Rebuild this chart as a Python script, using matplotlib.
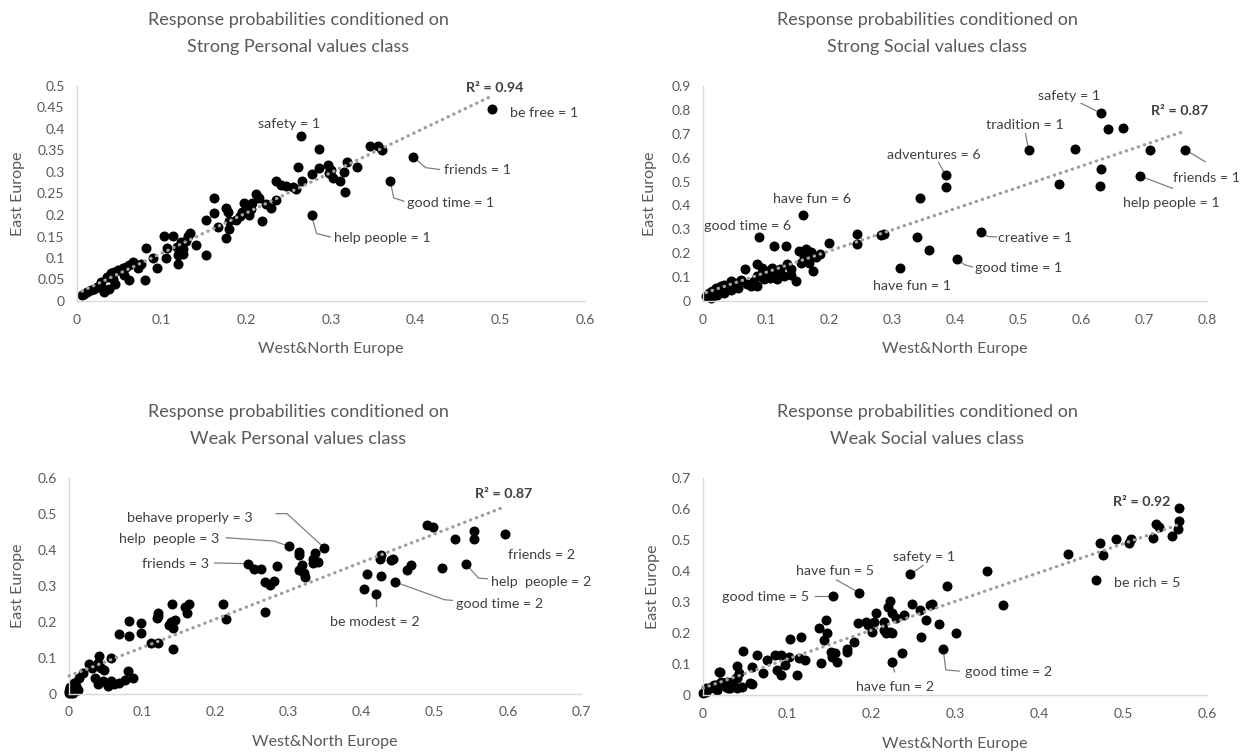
import matplotlib
matplotlib.use('Agg')
import matplotlib.pyplot as plt
from matplotlib.ticker import FuncFormatter
import numpy as np

plt.rcParams['font.family'] = ['Lato', 'DejaVu Sans']

# ---- data: (West&North Europe, East Europe) per class ----
'''Strong Personal values class'''
sp_wne = [0.490, 0.264, 0.286, 0.346, 0.355, 0.360, 0.397, 0.370, 0.277, 0.261,
          0.286, 0.297, 0.300, 0.298, 0.302, 0.319, 0.331, 0.315, 0.311, 0.316,
          0.277, 0.266, 0.259, 0.255, 0.247, 0.241, 0.235, 0.211, 0.223, 0.229,
          0.235, 0.219, 0.197, 0.201, 0.195, 0.192, 0.188, 0.205, 0.203, 0.176,
          0.178, 0.180, 0.180, 0.176, 0.162, 0.162, 0.166, 0.152, 0.152, 0.133,
          0.131, 0.129, 0.123, 0.125, 0.119, 0.119, 0.103, 0.113, 0.106, 0.105,
          0.094, 0.082, 0.080, 0.066, 0.062, 0.058, 0.054, 0.048, 0.044, 0.040,
          0.042, 0.036, 0.062, 0.072, 0.028, 0.024, 0.020, 0.016, 0.012, 0.008,
          0.006, 0.032, 0.038, 0.140, 0.125, 0.090, 0.075, 0.055, 0.045, 0.030,
          0.215, 0.207, 0.118]
sp_ee = [0.447, 0.383, 0.354, 0.361, 0.361, 0.352, 0.335, 0.279, 0.199, 0.311,
         0.309, 0.317, 0.305, 0.297, 0.286, 0.323, 0.311, 0.299, 0.278, 0.253,
         0.295, 0.278, 0.261, 0.266, 0.268, 0.270, 0.278, 0.249, 0.225, 0.216,
         0.236, 0.185, 0.227, 0.217, 0.208, 0.197, 0.189, 0.215, 0.200, 0.217,
         0.208, 0.186, 0.167, 0.146, 0.240, 0.204, 0.173, 0.189, 0.106, 0.159,
         0.150, 0.139, 0.138, 0.122, 0.107, 0.087, 0.150, 0.150, 0.124, 0.099,
         0.076, 0.124, 0.049, 0.091, 0.083, 0.080, 0.076, 0.072, 0.068, 0.064,
         0.052, 0.056, 0.048, 0.076, 0.044, 0.033, 0.029, 0.025, 0.021, 0.017,
         0.013, 0.021, 0.029, 0.130, 0.110, 0.100, 0.085, 0.060, 0.040, 0.030,
         0.240, 0.228, 0.125]

'''Strong Social values class'''
ss_wne = [0.159, 0.089, 0.245, 0.245, 0.282, 0.287, 0.200, 0.113, 0.131, 0.152,
          0.163, 0.171, 0.160, 0.168, 0.174, 0.179, 0.155, 0.147, 0.066, 0.086,
          0.094, 0.100, 0.107, 0.115, 0.123, 0.134, 0.139, 0.129, 0.118, 0.107,
          0.097, 0.086, 0.081, 0.076, 0.086, 0.060, 0.050, 0.044, 0.034, 0.028,
          0.021, 0.015, 0.010, 0.005, 0.013, 0.023, 0.034, 0.044, 0.313, 0.339,
          0.358, 0.345, 0.385, 0.385, 0.442, 0.403, 0.517, 0.631, 0.643, 0.667,
          0.590, 0.565, 0.632, 0.630, 0.710, 0.694, 0.765, 0.120, 0.095, 0.140,
          0.055, 0.070, 0.030, 0.110, 0.165, 0.185]
ss_ee = [0.359, 0.267, 0.281, 0.239, 0.277, 0.281, 0.243, 0.232, 0.232, 0.211,
         0.218, 0.204, 0.183, 0.161, 0.126, 0.183, 0.161, 0.083, 0.133, 0.154,
         0.140, 0.126, 0.119, 0.126, 0.133, 0.154, 0.133, 0.105, 0.091, 0.098,
         0.091, 0.105, 0.083, 0.062, 0.062, 0.090, 0.076, 0.083, 0.069, 0.062,
         0.055, 0.041, 0.034, 0.020, 0.013, 0.027, 0.034, 0.048, 0.140, 0.267,
         0.213, 0.433, 0.477, 0.528, 0.290, 0.175, 0.631, 0.787, 0.721, 0.725,
         0.638, 0.490, 0.551, 0.483, 0.631, 0.523, 0.634, 0.110, 0.120, 0.110,
         0.055, 0.070, 0.040, 0.140, 0.190, 0.195]

'''Weak Personal values class'''
wp_wne = [0.596, 0.554, 0.554, 0.528, 0.489, 0.498, 0.510, 0.543, 0.467, 0.462,
          0.443, 0.440, 0.426, 0.425, 0.427, 0.407, 0.403, 0.420, 0.446, 0.349,
          0.301, 0.314, 0.315, 0.337, 0.334, 0.340, 0.334, 0.318, 0.315, 0.321,
          0.323, 0.245, 0.253, 0.263, 0.285, 0.268, 0.275, 0.280, 0.268, 0.210,
          0.215, 0.164, 0.161, 0.158, 0.141, 0.139, 0.145, 0.137, 0.142, 0.142,
          0.122, 0.120, 0.112, 0.121, 0.098, 0.098, 0.082, 0.082, 0.069, 0.121,
          0.057, 0.041, 0.039, 0.028, 0.032, 0.044, 0.048, 0.019, 0.014, 0.007,
          0.080, 0.087, 0.076, 0.069, 0.062, 0.057, 0.053, 0.046, 0.039, 0.035,
          0.001, 0.000, 0.003, 0.005, 0.010, 0.002, 0.004, 0.001, 0.006, 0.008,
          0.012, 0.003, 0.000, 0.002]
wp_ee = [0.445, 0.453, 0.430, 0.430, 0.470, 0.464, 0.351, 0.360, 0.358, 0.344,
         0.376, 0.373, 0.385, 0.376, 0.327, 0.333, 0.291, 0.277, 0.311, 0.406,
         0.410, 0.395, 0.385, 0.392, 0.376, 0.366, 0.363, 0.358, 0.344, 0.335,
         0.325, 0.362, 0.348, 0.347, 0.355, 0.311, 0.302, 0.314, 0.228, 0.249,
         0.207, 0.251, 0.224, 0.242, 0.249, 0.200, 0.205, 0.191, 0.182, 0.124,
         0.224, 0.210, 0.142, 0.142, 0.198, 0.170, 0.203, 0.161, 0.166, 0.217,
         0.100, 0.106, 0.087, 0.082, 0.073, 0.073, 0.068, 0.059, 0.045, 0.031,
         0.063, 0.045, 0.040, 0.031, 0.027, 0.036, 0.022, 0.036, 0.027, 0.045,
         0.010, 0.004, 0.015, 0.008, 0.022, 0.020, 0.006, 0.012, 0.004, 0.014,
         0.010, 0.002, 0.009, 0.017]

'''Weak Social values class'''
ws_wne = [0.567, 0.567, 0.565, 0.558, 0.539, 0.543, 0.536, 0.507, 0.509, 0.492,
          0.473, 0.476, 0.434, 0.468, 0.338, 0.357, 0.247, 0.291, 0.186, 0.155,
          0.223, 0.220, 0.249, 0.270, 0.273, 0.258, 0.265, 0.239, 0.225, 0.216,
          0.230, 0.206, 0.204, 0.197, 0.201, 0.185, 0.194, 0.216, 0.223, 0.225,
          0.218, 0.259, 0.281, 0.301, 0.286, 0.225, 0.237, 0.180, 0.171, 0.172,
          0.157, 0.154, 0.159, 0.152, 0.146, 0.148, 0.144, 0.138, 0.140, 0.117,
          0.104, 0.121, 0.114, 0.112, 0.093, 0.086, 0.102, 0.098, 0.093, 0.088,
          0.076, 0.072, 0.064, 0.048, 0.058, 0.058, 0.040, 0.043, 0.039, 0.034,
          0.027, 0.022, 0.020, 0.032, 0.041, 0.013, 0.008, 0.003, 0.000, 0.017,
          0.004, 0.010, 0.016, 0.028, 0.040, 0.046, 0.030, 0.019, 0.056]
ws_ee = [0.602, 0.561, 0.537, 0.513, 0.551, 0.542, 0.508, 0.489, 0.502, 0.502,
         0.491, 0.451, 0.456, 0.371, 0.400, 0.290, 0.389, 0.352, 0.330, 0.319,
         0.303, 0.285, 0.292, 0.290, 0.292, 0.274, 0.242, 0.258, 0.263, 0.236,
         0.247, 0.263, 0.236, 0.226, 0.204, 0.231, 0.236, 0.209, 0.204, 0.199,
         0.199, 0.188, 0.228, 0.199, 0.147, 0.107, 0.136, 0.172, 0.150, 0.140,
         0.134, 0.124, 0.107, 0.140, 0.242, 0.199, 0.177, 0.215, 0.102, 0.188,
         0.180, 0.113, 0.118, 0.064, 0.129, 0.129, 0.124, 0.097, 0.064, 0.081,
         0.113, 0.070, 0.129, 0.142, 0.091, 0.035, 0.093, 0.070, 0.054, 0.043,
         0.027, 0.043, 0.075, 0.021, 0.021, 0.032, 0.021, 0.011, 0.008, 0.016,
         0.022, 0.027, 0.032, 0.043, 0.054, 0.027, 0.022, 0.075, 0.038]

titles = ['Strong Personal values class', 'Strong Social values class',
          'Weak Personal values class', 'Weak Social values class']
r2_labels = ['R² = 0.94', 'R² = 0.87', 'R² = 0.87', 'R² = 0.92']
x_max = [0.6, 0.8, 0.7, 0.6]
y_max = [0.5, 0.9, 0.6, 0.7]
y_step = [0.05, 0.1, 0.1, 0.1]

# point labels: (text, index of labelled point)
labels_sp = [('safety = 1', 1), ('be free = 1', 0), ('friends = 1', 6),
             ('good time = 1', 7), ('help people = 1', 8)]
labels_ss = [('safety = 1', 57), ('tradition = 1', 56), ('adventures = 6', 53),
             ('have fun = 6', 0), ('good time = 6', 1), ('creative = 1', 54),
             ('good time = 1', 55), ('have fun = 1', 48), ('friends = 1', 66),
             ('help people = 1', 65)]
labels_wp = [('behave properly = 3', 19), ('help  people = 3', 20),
             ('friends = 3', 31), ('friends = 2', 0), ('help  people = 2', 7),
             ('good time = 2', 18), ('be modest = 2', 17)]
labels_ws = [('safety = 1', 16), ('have fun = 5', 18), ('good time = 5', 19),
             ('be rich = 5', 13), ('good time = 2', 44), ('have fun = 2', 45)]

# ---- layout of the label texts: (text x, text y, ha, leader-line vertices) ----
lay_sp = [(0.251, 0.412, 'center', []),
          (0.511, 0.438, 'left', []),
          (0.433, 0.304, 'left', [(0.412, 0.310), (0.428, 0.306)]),
          (0.390, 0.229, 'left', [(0.374, 0.240), (0.386, 0.232)]),
          (0.303, 0.146, 'left', [(0.283, 0.157), (0.299, 0.149)])]
lay_ss = [(0.581, 0.859, 'center', [(0.600, 0.828)]),
          (0.511, 0.735, 'center', [(0.512, 0.700)]),
          (0.366, 0.610, 'center', [(0.374, 0.580)]),
          (0.173, 0.427, 'center', []),
          (0.071, 0.316, 'center', []),
          (0.469, 0.265, 'left', [(0.452, 0.270), (0.466, 0.268)]),
          (0.432, 0.137, 'left', [(0.415, 0.152), (0.428, 0.142)]),
          (0.332, 0.062, 'center', []),
          (0.800, 0.514, 'center', [(0.797, 0.583)]),
          (0.743, 0.410, 'center', [(0.745, 0.472)])]
lay_wp = [(0.165, 0.490, 'center', [(0.298, 0.501), (0.283, 0.501)]),
          (0.137, 0.430, 'center', [(0.280, 0.425), (0.215, 0.434)]),
          (0.145, 0.362, 'center', [(0.199, 0.364)]),
          (0.646, 0.385, 'center', []),
          (0.646, 0.311, 'center', [(0.560, 0.322), (0.572, 0.320)]),
          (0.589, 0.251, 'center', [(0.513, 0.262), (0.524, 0.260)]),
          (0.418, 0.199, 'center', [(0.420, 0.245)])]
lay_ws = [(0.263, 0.446, 'center', [(0.262, 0.418)]),
          (0.157, 0.400, 'center', [(0.159, 0.371)]),
          (0.074, 0.315, 'center', [(0.133, 0.319)]),
          (0.529, 0.360, 'center', []),
          (0.364, 0.073, 'center', [(0.289, 0.081), (0.305, 0.077)]),
          (0.229, 0.027, 'center', [(0.228, 0.075)])]
r2_pos = [(0.459, 0.495), (0.756, 0.794), (0.594, 0.556), (0.522, 0.623)]

W, H = 1249, 753
# axes boxes in pixels: left, right, bottom(y of 0), top
boxes = [(77, 585, 301, 86), (703, 1207, 301, 86),
         (69, 581, 694, 478), (703, 1207, 695, 478)]
title_px = [(298, 20), (927, 20), (298, 412), (927, 412)]
xlabel_py = [349, 349, 742, 744]
ylabel_px = [18, 650, 18, 653]

series = [(sp_wne, sp_ee, labels_sp, lay_sp), (ss_wne, ss_ee, labels_ss, lay_ss),
          (wp_wne, wp_ee, labels_wp, lay_wp), (ws_wne, ws_ee, labels_ws, lay_ws)]

fig = plt.figure(figsize=(W / 100, H / 100), dpi=100)
gray = '#595959'
dark = '#404040'

for i, (xs, ys, labs, lay) in enumerate(series):
    l, r, b, t = boxes[i]
    ax = fig.add_axes([l / W, 1 - b / H, (r - l) / W, (b - t) / H])
    xs = np.array(xs)
    ys = np.array(ys)
    ax.scatter(xs, ys, s=52, c='black', linewidths=0, zorder=2, clip_on=False)

    # linear trendline over data range
    m, c0 = np.polyfit(xs, ys, 1)
    tx = np.array([xs.min(), xs.max()])
    ax.plot(tx, m * tx + c0, linestyle=(0, (0.1, 1.8)), color='#a0a0a0', lw=2.4,
            zorder=3, dash_capstyle='round', clip_on=False)

    ax.set_xlim(0, x_max[i])
    ax.set_ylim(0, y_max[i])
    ax.set_xticks(np.arange(0, x_max[i] + 1e-9, 0.1))
    ax.set_yticks(np.arange(0, y_max[i] + 1e-9, y_step[i]))
    fmt = FuncFormatter(lambda v, p: '{:g}'.format(round(v, 2)))
    ax.xaxis.set_major_formatter(fmt)
    ax.yaxis.set_major_formatter(fmt)
    ax.tick_params(length=0, labelsize=10, colors=gray, pad=9)
    for s in ['top', 'right']:
        ax.spines[s].set_visible(False)
    for s in ['left', 'bottom']:
        ax.spines[s].set_color('#d9d9d9')
        ax.spines[s].set_linewidth(1)

    ax.set_xlabel('West&North Europe', fontsize=11.5, color=gray)
    ax.xaxis.label.set_verticalalignment('center')
    ax.xaxis.set_label_coords(0.5, -(xlabel_py[i] - b) / (b - t))
    ax.set_ylabel('East Europe', fontsize=11.5, color=gray)
    ax.yaxis.label.set_verticalalignment('center')
    ax.yaxis.set_label_coords(-(l - ylabel_px[i]) / (r - l), 0.5)

    tx_, ty_ = title_px[i]
    fig.text(tx_ / W, 1 - ty_ / H, 'Response probabilities conditioned on',
             ha='center', va='center', fontsize=13, color=gray)
    fig.text(tx_ / W, 1 - (ty_ + 27) / H, titles[i],
             ha='center', va='center', fontsize=13, color=gray)

    # point labels with leader lines
    for (txt, idx), (lx, ly, ha, via) in zip(labs, lay):
        ax.text(lx, ly, txt, ha=ha, va='center', fontsize=10.3, color=dark,
                clip_on=False, zorder=4)
        if via:
            px = [xs[idx]] + [v[0] for v in via]
            py = [ys[idx]] + [v[1] for v in via]
            ax.plot(px, py, color='#7f7f7f', lw=0.9, zorder=1, clip_on=False)

    ax.text(r2_pos[i][0], r2_pos[i][1], r2_labels[i], ha='left' if i == 0 else 'center',
            va='center', fontsize=10.3, fontweight='bold', color=dark, clip_on=False)

fig.savefig('out.png', dpi=100)
